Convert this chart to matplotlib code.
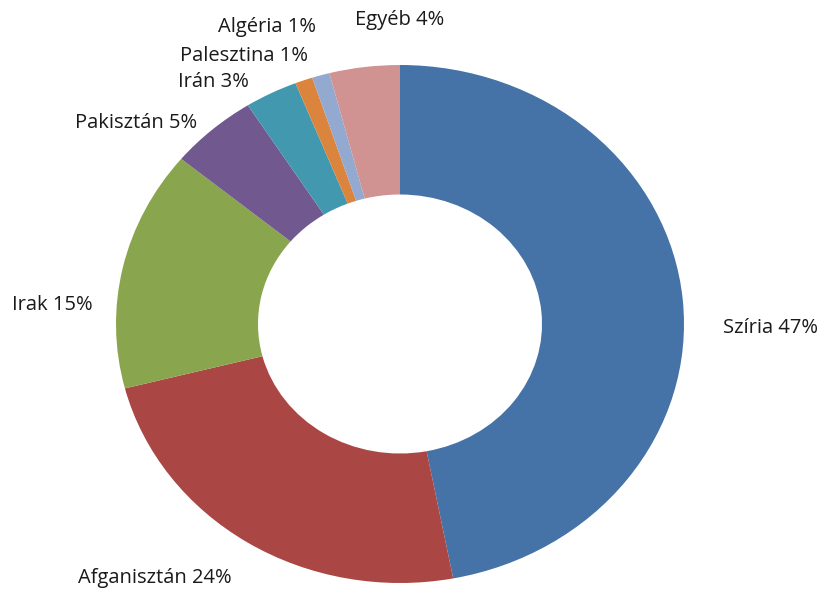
import numpy as np
import matplotlib.pyplot as plt

# ADATOK
orszagok = ['Szíria', 'Afganisztán', 'Irak', 'Pakisztán', 'Irán', 'Palesztina', 'Algéria', 'Egyéb']
szazalek = [47, 24, 15, 5, 3, 1, 1, 4]
szinek = ['#4572A7', '#AA4643', '#89A54E', '#71588F', '#4198AF', '#DB843D', '#93A9CF', '#D19392']

# CIMKEK HELYE (pixel, a kep bal felso sarkatol)
cimke_hely = [(723, 328, 'left'), (78, 578, 'left'), (12, 305, 'left'), (75, 123, 'left'),
              (178, 82, 'left'), (180, 56, 'left'), (218, 27, 'left'), (355, 20, 'left')]

W, H = 824, 590
cx, cy = 400, 324      # kor kozeppontja
rx, ry = 284, 259      # kulso sugar (kicsit nyujtott kep)

fig = plt.figure(figsize=(W / 100, H / 100), dpi=100)
ax = fig.add_axes([0, 0, 1, 1])
ax.pie(szazalek, colors=szinek, startangle=90, counterclock=False, radius=1,
       wedgeprops=dict(width=0.5, edgecolor='none'))
ax.set_aspect('auto')
ax.set_xlim(-cx / rx, (W - cx) / rx)
ax.set_ylim((cy - H) / ry, cy / ry)
ax.axis('off')

for nev, p, (x, y, ha) in zip(orszagok, szazalek, cimke_hely):
   fig.text(x / W, 1 - y / H, f'{nev} {p}%', ha=ha, va='center',
            fontsize=14.5, family='Open Sans', color='#1a1a1a')

fig.savefig('out.png', dpi=100)
